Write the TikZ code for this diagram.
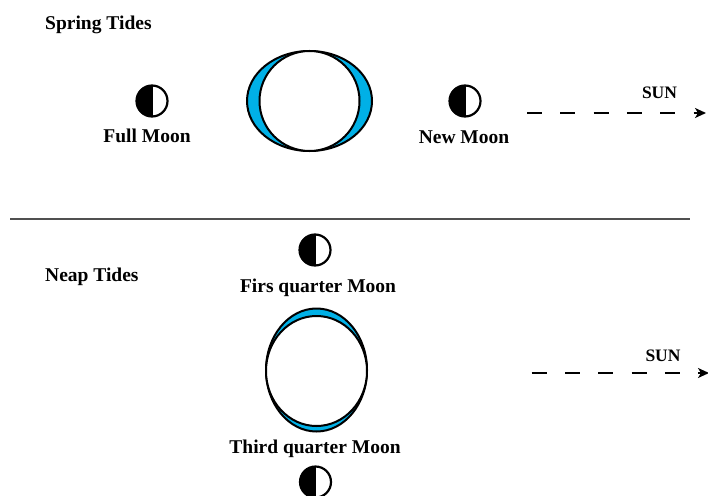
\documentclass[tikz,border=0pt]{standalone}
\usepackage{fontspec}
\setmainfont{Liberation Serif}
\usetikzlibrary{arrows.meta}
\definecolor{tidecol}{RGB}{0,176,230}
\definecolor{rulegray}{RGB}{80,80,80}

\begin{document}
\begin{tikzpicture}[x=1pt,y=-1pt,>={Stealth[length=11pt,width=10pt,inset=3pt]},
  lbl/.style={font=\fontsize{19.5}{23}\selectfont\bfseries,inner sep=0pt,anchor=base},
  sunlbl/.style={lbl,font=\fontsize{17.5}{21}\selectfont\bfseries},
  moon/.style={circle,draw,line width=2.2pt,minimum size=31pt,inner sep=0pt,
    path picture={\fill (path picture bounding box.north) rectangle (path picture bounding box.south west);
      \draw[line width=0.8pt] (path picture bounding box.north) -- (path picture bounding box.south);}},
  sunray/.style={->,line width=1.8pt,dash pattern=on 15pt off 18.3pt},
  bulge/.style={fill=tidecol,draw,line width=2pt},
  earth/.style={fill=white,draw,line width=2pt}]
\useasboundingbox (0,0) rectangle (708,495);
\begin{scope}
\node[lbl,anchor=base west] (spring) at (45,30) {Spring Tides};
\node[moon] (full) at (152,101) {};
\node[lbl] (fulllbl) at (147,142.7) {Full Moon};
\node[moon] (new) at (465,101) {};
\node[lbl] (newlbl) at (464,143.5) {New Moon};
\filldraw[bulge] (309.5,101) ellipse [x radius=62.5,y radius=50];
\filldraw[earth] (309.5,101) circle [radius=50];
\node[sunlbl] (sun1) at (659.5,98.3) {SUN};
\coordinate (ray1a) at (527,113);
\coordinate (ray1b) at (706,113);
\draw[sunray] (ray1a) -- (ray1b);
\end{scope}
\draw[rulegray,line width=2.8pt] (10,219) -- (690,219);
\begin{scope}
\node[lbl,anchor=base west] (neap) at (45,281) {Neap Tides};
\node[moon] (firstq) at (315,250) {};
\node[lbl] (firstlbl) at (318,292) {Firs quarter Moon};
\filldraw[bulge] (316.5,370) ellipse [x radius=50.5,y radius=61.5];
\filldraw[earth] (316.5,371) ellipse [x radius=50.5,y radius=55];
\node[lbl] (thirdlbl) at (315,453) {Third quarter Moon};
\node[moon] (thirdq) at (315.5,482) {};
\node[sunlbl] (sun2) at (663,361) {SUN};
\coordinate (ray2a) at (531.7,373);
\coordinate (ray2b) at (709,373);
\draw[sunray] (ray2a) -- (ray2b);
\end{scope}
\end{tikzpicture}
\end{document}
